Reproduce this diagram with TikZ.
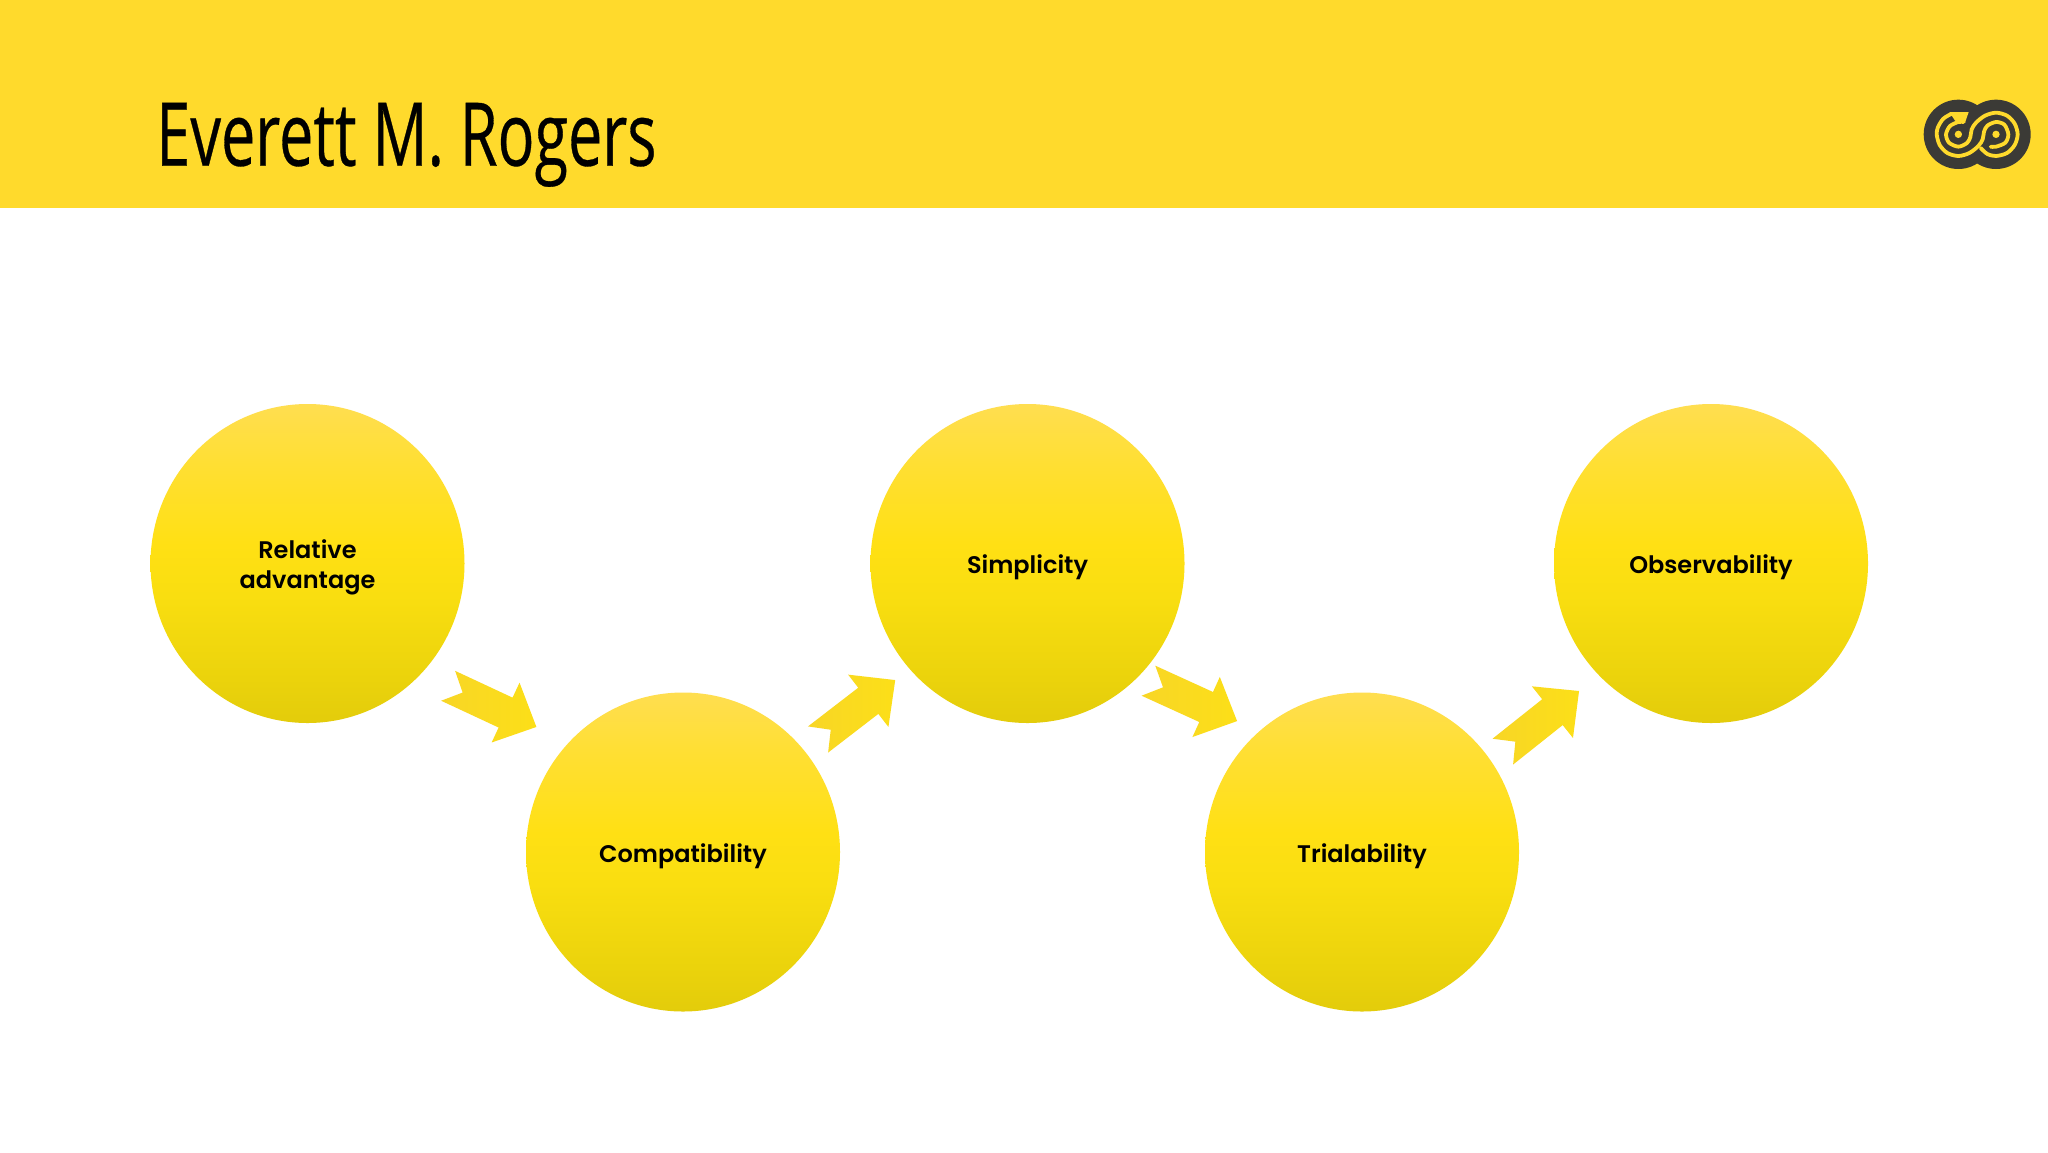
\documentclass[tikz,border=0pt]{standalone}
\usepackage{fontspec}
\usetikzlibrary{calc,shapes.geometric}
\newfontfamily\titlefont[FakeStretch=0.695,FakeBold=0.35]{Open Sans}
\newfontfamily\labelfont[BoldFont={* SemiBold}]{Poppins}
\definecolor{bandyellow}{HTML}{FFDA2C}
\definecolor{logodark}{HTML}{3B3A36}
\definecolor{arrowA}{HTML}{F8D626}
\definecolor{arrowB}{HTML}{FCDF18}
\definecolor{bubbleC}{HTML}{E3CC0B}
\definecolor{bubbleD}{HTML}{EBD30C}
\definecolor{bubbleE}{HTML}{F9DE10}
\definecolor{bubbleF}{HTML}{FFE014}
\definecolor{bubbleG}{HTML}{FFDF34}
\definecolor{bubbleH}{HTML}{FFDE50}
\pgfdeclareverticalshading{bubblefade}{100bp}{
  color(0bp)=(bubbleC); color(25bp)=(bubbleC); color(32bp)=(bubbleD); color(45bp)=(bubbleE);
  color(53bp)=(bubbleF); color(66bp)=(bubbleG); color(75bp)=(bubbleH); color(100bp)=(bubbleH)}
\tikzset{
  bubble/.style={ellipse,minimum width=157pt,minimum height=159.5pt,inner sep=0pt,shading=bubblefade},
  bubbletext/.style={align=center,yshift=-2pt,font=\labelfont\bfseries\fontsize{12}{15}\selectfont},
  logoline/.style={bandyellow,line width=1.9pt,line cap=round}
}
% block arrow half way between two bubbles: from, to, offset, angle
\newcommand{\flowarrow}[4]{
  \shade[left color=arrowA,right color=arrowB,shift={($($(#1)!0.5!(#2)$)+(#3)$)},rotate=#4]
    (45.4,0) -- (11.4,-33) -- (11.4,-16.5) -- (-52,-16.5) -- (-36,0)
    -- (-52,16.5) -- (11.4,16.5) -- (11.4,33) -- cycle;
}
\begin{document}
\begin{tikzpicture}[x=0.5pt,y=-0.5pt]
  \useasboundingbox (0,0) rectangle (2048,1152);
  \fill[white] (0,0) rectangle (2048,1152);

  % Header band and title
  \fill[bandyellow] (0,0) rectangle (2048,208);
  \node[anchor=base west,inner sep=0pt,font=\titlefont\fontsize{44}{50}\selectfont] (title) at (156,165.7) {Everett M. Rogers};

  % Logo
  \begin{scope}[shift={(1910,90)},scale=1/3]
    \fill[logodark] (145,133) circle (104) (258,133) circle (104);
    \fill[bandyellow] (118,66) -- (176,66) -- (165,98) -- (135,92) -- cycle;
    \draw[logoline] plot[smooth] coordinates {(125,71) (100,86) (84,111) (80,133) (89,165) (112,189) (145,198) (178,189) (205,168) (218,148) (222,125) (232,107) (258,96) (283,104) (295,133) (286,158) (258,170) (242,170)};
    \draw[logoline] plot[smooth] coordinates {(161,96) (145,96) (120,108) (108,133) (117,158) (145,170) (171,159) (181,141) (185,118) (198,98) (225,77) (258,68) (291,77) (314,101) (323,133) (314,165) (291,189) (258,198) (232,192) (212,174)};
    \fill[bandyellow] (145,133) circle (11) (258,133) circle (11);
  \end{scope}

  % Bubbles
  \node[bubble,label={[bubbletext,name=relativetext]center:{Relative\\advantage}}] (relative) at (307.5,563.5) {};
  \node[bubble,label={[bubbletext,name=compattext]center:Compatibility}] (compat) at (683,852) {};
  \node[bubble,label={[bubbletext,name=simpletext]center:Simplicity}] (simple) at (1027.5,563.5) {};
  \node[bubble,label={[bubbletext,name=trialtext]center:Trialability}] (trial) at (1362,852) {};
  \node[bubble,label={[bubbletext,name=observetext]center:Observability}] (observe) at (1711,563.5) {};

  % Arrows between the bubbles
  \flowarrow{relative}{compat}{0,0}{-25}
  \flowarrow{compat}{simple}{4,0}{37.6}
  \flowarrow{simple}{trial}{1,-5.5}{-24.5}
  \flowarrow{trial}{observe}{7,11.5}{38.5}
\end{tikzpicture}
\end{document}
